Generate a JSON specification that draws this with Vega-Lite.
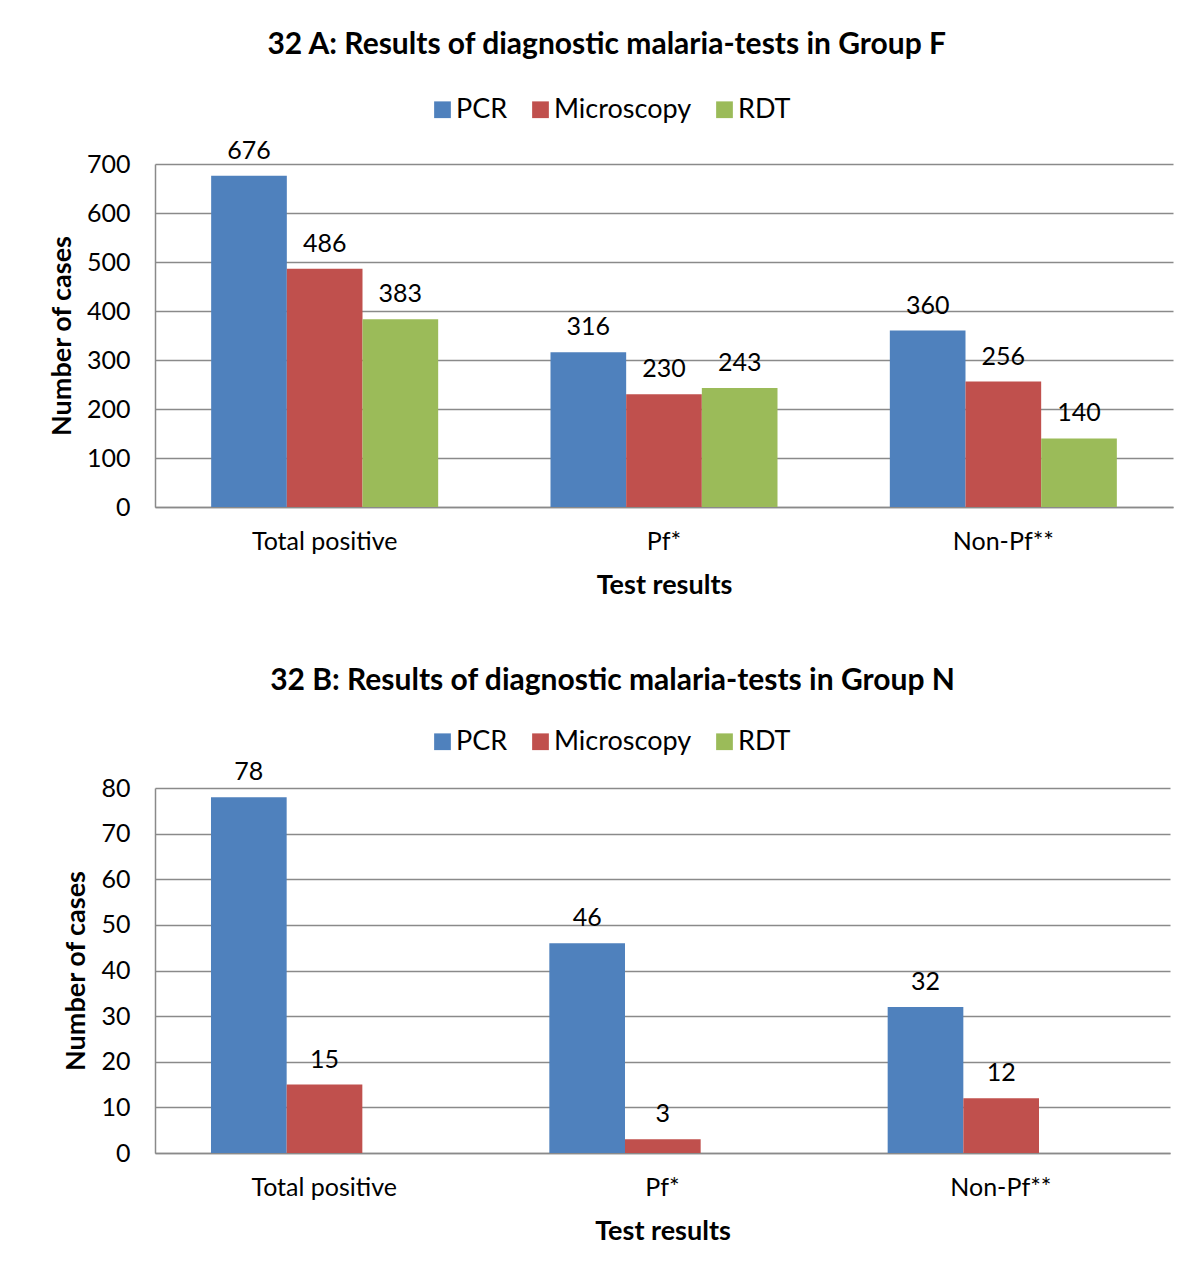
{
  "$schema": "https://vega.github.io/schema/vega-lite/v6.json",
  "background": "white",
  "padding": {"left": 48, "top": 30, "right": 27, "bottom": 10},
  "spacing": 68,
  "config": {
    "font": "Lato",
    "view": {"stroke": null},
    "axis": {
      "labelFont": "Lato",
      "labelColor": "#000000",
      "labelFontSize": 25,
      "titleFont": "Lato",
      "titleColor": "#000000",
      "titleFontSize": 27,
      "titleFontWeight": "bold",
      "ticks": false,
      "domainColor": "#8a8a8a",
      "domainWidth": 1.5,
      "gridColor": "#8a8a8a",
      "gridWidth": 1.3
    },
    "legend": {
      "orient": "none",
      "direction": "horizontal",
      "title": null,
      "symbolType": "square",
      "symbolSize": 280,
      "symbolStrokeWidth": 0,
      "labelFont": "Lato",
      "labelFontSize": 27,
      "labelColor": "#000000",
      "labelOffset": 0,
      "columnPadding": 19,
      "padding": 0
    },
    "title": {"font": "Lato", "fontSize": 30, "fontWeight": "bold", "color": "#000000", "anchor": "middle", "frame": "bounds"}
  },
  "datasets": {
    "groupF": [
      {"result": "Total positive", "test": "PCR", "value": 676},
      {"result": "Total positive", "test": "Microscopy", "value": 486},
      {"result": "Total positive", "test": "RDT", "value": 383},
      {"result": "Pf*", "test": "PCR", "value": 316},
      {"result": "Pf*", "test": "Microscopy", "value": 230},
      {"result": "Pf*", "test": "RDT", "value": 243},
      {"result": "Non-Pf**", "test": "PCR", "value": 360},
      {"result": "Non-Pf**", "test": "Microscopy", "value": 256},
      {"result": "Non-Pf**", "test": "RDT", "value": 140}
    ],
    "groupN": [
      {"result": "Total positive", "test": "PCR", "value": 78},
      {"result": "Total positive", "test": "Microscopy", "value": 15},
      {"result": "Pf*", "test": "PCR", "value": 46},
      {"result": "Pf*", "test": "Microscopy", "value": 3},
      {"result": "Non-Pf**", "test": "PCR", "value": 32},
      {"result": "Non-Pf**", "test": "Microscopy", "value": 12}
    ]
  },
  "resolve": {"scale": {"color": "independent"}, "legend": {"color": "independent"}},
  "vconcat": [
    {
      "width": 1018,
      "height": 343,
      "title": {"text": "32 A: Results of diagnostic malaria-tests in Group F", "dx": -4, "offset": 36},
      "data": {"name": "groupF"},
      "encoding": {
        "x": {
          "field": "result", "type": "nominal",
          "sort": ["Total positive", "Pf*", "Non-Pf**"],
          "scale": {"paddingInner": 0.331, "paddingOuter": 0.1655},
          "title": "Test results",
          "axis": {"labelAngle": 0, "labelPadding": 22, "titlePadding": 18, "grid": false}
        },
        "xOffset": {
          "field": "test", "type": "nominal",
          "scale": {"domain": ["PCR", "Microscopy", "RDT"], "paddingInner": 0, "paddingOuter": 0}
        },
        "y": {
          "field": "value", "type": "quantitative",
          "scale": {"domain": [0, 700], "nice": false},
          "title": "Number of cases",
          "axis": {"values": [0, 100, 200, 300, 400, 500, 600, 700], "labelPadding": 25, "titlePadding": 10, "grid": true}
        }
      },
      "layer": [
        {
          "mark": {"type": "bar"},
          "encoding": {
            "color": {
              "field": "test", "type": "nominal",
              "scale": {"domain": ["PCR", "Microscopy", "RDT"], "range": ["#4F81BD", "#C0504D", "#9BBB59"]},
              "legend": {"legendX": 274, "legendY": -68}
            }
          }
        },
        {
          "mark": {"type": "text", "baseline": "alphabetic", "dy": -17, "fontSize": 25, "font": "Lato", "color": "#000000"},
          "encoding": {"text": {"field": "value", "type": "quantitative"}}
        }
      ]
    },
    {
      "width": 1015,
      "height": 365,
      "title": {"text": "32 B: Results of diagnostic malaria-tests in Group N", "dx": -4, "offset": 32},
      "data": {"name": "groupN"},
      "encoding": {
        "x": {
          "field": "result", "type": "nominal",
          "sort": ["Total positive", "Pf*", "Non-Pf**"],
          "scale": {"paddingInner": 0.331, "paddingOuter": 0.1655},
          "title": "Test results",
          "axis": {"labelAngle": 0, "labelPadding": 22, "titlePadding": 18, "grid": false}
        },
        "xOffset": {
          "field": "test", "type": "nominal",
          "scale": {"domain": ["PCR", "Microscopy", "RDT"], "paddingInner": 0, "paddingOuter": 0}
        },
        "y": {
          "field": "value", "type": "quantitative",
          "scale": {"domain": [0, 80], "nice": false},
          "title": "Number of cases",
          "axis": {"values": [0, 10, 20, 30, 40, 50, 60, 70, 80], "labelPadding": 25, "titlePadding": 10, "grid": true}
        }
      },
      "layer": [
        {
          "mark": {"type": "bar"},
          "encoding": {
            "color": {
              "field": "test", "type": "nominal",
              "scale": {"domain": ["PCR", "Microscopy", "RDT"], "range": ["#4F81BD", "#C0504D", "#9BBB59"]},
              "legend": {"legendX": 274, "legendY": -60}
            }
          }
        },
        {
          "mark": {"type": "text", "baseline": "alphabetic", "dy": -17, "fontSize": 25, "font": "Lato", "color": "#000000"},
          "encoding": {"text": {"field": "value", "type": "quantitative"}}
        }
      ]
    }
  ]
}
